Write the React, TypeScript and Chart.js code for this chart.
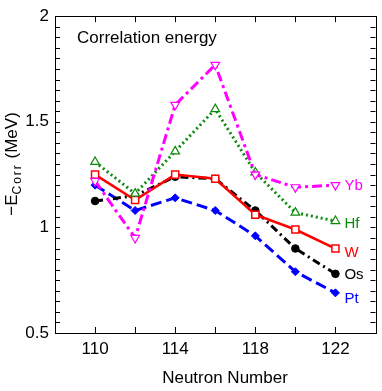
import React, { useEffect, useRef } from 'react';
import { Chart, registerables } from 'chart.js';
Chart.register(...registerables);

const neutronNumbers = [110, 112, 114, 116, 118, 120, 122];
const ybValues = [1.22, 0.95, 1.58, 1.77, 1.25, 1.19, 1.2];
const hfValues = [1.31, 1.16, 1.36, 1.56, 1.26, 1.07, 1.03];
const wValues = [1.25, 1.13, 1.25, 1.23, 1.06, 0.99, 0.9];
const osValues = [1.125, 1.15, 1.24, 1.23, 1.08, 0.9, 0.78];
const ptValues = [1.2, 1.08, 1.14, 1.08, 0.96, 0.79, 0.69];
const xTickLabels = [110, 114, 118, 122];
const yTickLabels = [0.5, 1, 1.5, 2];
const seriesNames = ['Yb', 'Hf', 'W', 'Os', 'Pt'];

const FONT = '"Liberation Sans", Arial, Helvetica, sans-serif';
const MAGENTA = '#ff00ff';
const GREEN = '#0b8a0b';
const RED = '#ff0000';
const BLACK = '#000000';
const BLUE = '#0000ff';

const toPoints = (vals: number[]) => neutronNumbers.map((x, i) => ({ x, y: vals[i] }));

const labelOffsets: Record<string, number> = { Yb: 1, Hf: 3, W: 4, Os: 1, Pt: 6 };

const framePlugin = {
  id: 'framePlugin',
  afterDraw(chart: any) {
    const ctx = chart.ctx as CanvasRenderingContext2D;
    const { left, right, top, bottom } = chart.chartArea;
    const xs = chart.scales.x;
    const ys = chart.scales.y;
    ctx.save();
    ctx.strokeStyle = '#000';
    ctx.lineWidth = 1;
    ctx.strokeRect(Math.round(left) + 0.5, Math.round(top) + 0.5, Math.round(right - left), Math.round(bottom - top));
    for (let v = 110; v <= 122; v += 2) {
      const px = Math.round(xs.getPixelForValue(v)) + 0.5;
      ctx.beginPath();
      ctx.moveTo(px, bottom);
      ctx.lineTo(px, bottom - 6);
      ctx.moveTo(px, top);
      ctx.lineTo(px, top + 6);
      ctx.stroke();
    }
    for (let i = 1; i < 30; i++) {
      const v = 0.5 + i * 0.05;
      const py = Math.round(ys.getPixelForValue(v)) + 0.5;
      ctx.beginPath();
      ctx.moveTo(left, py);
      ctx.lineTo(left + 5, py);
      ctx.moveTo(right, py);
      ctx.lineTo(right - 5, py);
      ctx.stroke();
    }
    // series labels
    ctx.font = `15px ${FONT}`;
    ctx.textBaseline = 'middle';
    ctx.textAlign = 'left';
    chart.data.datasets.forEach((ds: any, i: number) => {
      const name = seriesNames[i];
      const last = ds.data[ds.data.length - 1];
      ctx.fillStyle = ds.borderColor;
      ctx.fillText(name, xs.getPixelForValue(last.x) + 9, ys.getPixelForValue(last.y) + labelOffsets[name]);
    });
    // inner title
    ctx.font = `17px ${FONT}`;
    ctx.fillStyle = '#000';
    ctx.textBaseline = 'alphabetic';
    ctx.fillText('Correlation energy', 77, 43);
    // x title
    ctx.textAlign = 'center';
    ctx.fillText('Neutron Number', 225, 383);
    // y title rotated
    ctx.translate(17, 164);
    ctx.rotate(-Math.PI / 2);
    ctx.textAlign = 'left';
    const big = `17px ${FONT}`;
    const small = `12px ${FONT}`;
    const parts: [string, string, number, number][] = [
      ['\u2212E', big, 0, 0],
      ['Corr', small, 3.5, 2],
      [' (MeV)', big, 0, 0],
    ];
    const measure = (t: string, f: string, ls: number) => {
      ctx.font = f;
      return ctx.measureText(t).width + ls * t.length;
    };
    let total = 0;
    parts.forEach(([t, f, , ls]) => { total += measure(t, f, ls); });
    let x = -total / 2;
    parts.forEach(([t, f, dy, ls]) => {
      ctx.font = f;
      let cx = x;
      for (const ch of t) {
        ctx.fillText(ch, cx, dy);
        cx += ctx.measureText(ch).width + ls;
      }
      x += measure(t, f, ls);
    });
    ctx.restore();
  },
};

export default function App() {
  const ref = useRef<HTMLCanvasElement | null>(null);
  useEffect(() => {
    document.body.style.margin = '0';
    const canvas = ref.current;
    if (!canvas) return;
    const chart = new Chart(canvas, {
      type: 'line',
      data: {
        datasets: [
          {
            label: 'Yb', data: toPoints(ybValues), borderColor: MAGENTA, backgroundColor: '#fff',
            borderWidth: 3, borderDash: [10, 4, 3, 4], pointStyle: 'triangle', rotation: 180,
            pointRadius: 5, pointBorderWidth: 1.2, pointBorderColor: MAGENTA, pointBackgroundColor: '#ffffff',
          },
          {
            label: 'Hf', data: toPoints(hfValues), borderColor: GREEN, backgroundColor: '#fff',
            borderWidth: 3, borderDash: [2, 3], pointStyle: 'triangle',
            pointRadius: 5, pointBorderWidth: 1.2, pointBorderColor: GREEN, pointBackgroundColor: '#ffffff',
          },
          {
            label: 'W', data: toPoints(wValues), borderColor: RED, backgroundColor: '#fff',
            borderWidth: 2.5, pointStyle: 'rect',
            pointRadius: 5, pointBorderWidth: 1.5, pointBorderColor: RED, pointBackgroundColor: '#ffffff',
          },
          {
            label: 'Os', data: toPoints(osValues), borderColor: BLACK, backgroundColor: BLACK,
            borderWidth: 3, borderDash: [8, 4, 2, 4], pointStyle: 'circle',
            pointRadius: 3.8, pointBorderWidth: 1, pointBorderColor: BLACK, pointBackgroundColor: BLACK,
          },
          {
            label: 'Pt', data: toPoints(ptValues), borderColor: BLUE, backgroundColor: BLUE,
            borderWidth: 3, borderDash: [11, 5], pointStyle: 'rectRot',
            pointRadius: 4, pointBorderWidth: 1, pointBorderColor: BLUE, pointBackgroundColor: BLUE,
          },
        ],
      },
      options: {
        animation: false,
        responsive: false,
        layout: { padding: { top: 10, right: 6, left: 0, bottom: 0 } },
        plugins: { legend: { display: false }, tooltip: { enabled: false } },
        scales: {
          x: {
            type: 'linear', min: 108, max: 124,
            grid: { display: false, drawTicks: false },
            border: { display: false },
            afterFit: (s: any) => { s.height = 58; },
            ticks: {
              stepSize: 2, autoSkip: false, maxRotation: 0, padding: 6, color: '#000',
              font: { family: FONT, size: 17 },
              callback: (v: any) => (xTickLabels.includes(Number(v)) ? String(v) : ''),
            },
          },
          y: {
            type: 'linear', min: 0.5, max: 2,
            grid: { display: false, drawTicks: false },
            border: { display: false },
            afterFit: (s: any) => { s.width = 55; },
            ticks: {
              stepSize: 0.5, autoSkip: false, padding: 6, color: '#000',
              font: { family: FONT, size: 17 },
              callback: (v: any) => {
                const n = Math.round(Number(v) * 100) / 100;
                return yTickLabels.includes(n) ? String(n) : '';
              },
            },
          },
        },
      },
      plugins: [framePlugin],
    } as any);
    return () => chart.destroy();
  }, []);
  return (
    <div style={{ width: 382, height: 391 }}>
      <canvas ref={ref} width={382} height={391} style={{ display: 'block' }} />
    </div>
  );
}
